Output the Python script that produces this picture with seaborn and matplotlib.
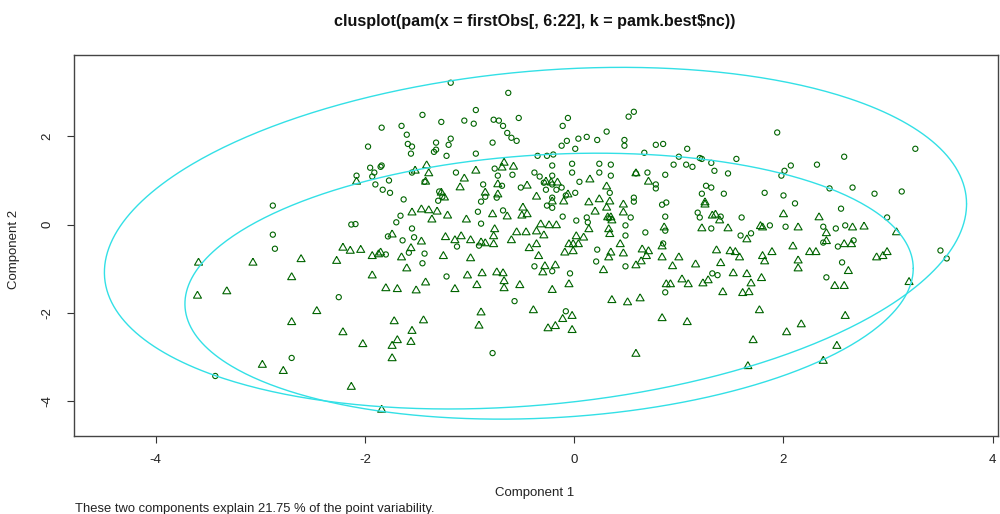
import numpy as np
import pandas as pd
import matplotlib
matplotlib.use("Agg")
import matplotlib.pyplot as plt
import seaborn as sns

# Component scores of the observations in cluster 1 (open circles)
cluster1_pts = [
    (-1.84, 2.20), (-1.97, 1.77), (-1.95, 1.29), (-1.85, 1.31), (-1.91, 1.18), (-1.93, 1.09),
    (-2.08, 1.11), (-1.90, 0.91), (-1.83, 0.79), (-2.88, 0.43), (-2.13, 0.00), (-2.09, 0.01),
    (-2.88, -0.23), (-2.86, -0.55), (-2.25, -1.65), (-2.70, -3.03), (-3.43, -3.44),
    (-0.78, -2.92), (-0.57, -1.74), (-0.08, -1.97), (0.87, -1.54), (-1.22, -1.18), (-0.04, -1.11),
    (-0.38, -0.95), (-0.21, -1.06), (0.22, -0.57), (0.21, -0.84), (0.49, -0.95), (0.85, -0.43),
    (0.49, -0.25), (0.68, -0.18), (-1.12, -0.50), (-1.53, -0.29), (-1.64, -0.36), (-1.43, -0.66),
    (-1.45, -0.88), (-1.58, -0.64), (-1.80, -0.68), (-1.78, -0.27), (-0.91, -0.48),
    (-1.56, 1.61), (-1.34, 1.65), (-1.22, 1.56), (-0.94, 1.61), (-0.35, 1.56), (-0.26, 1.56),
    (-0.20, 1.59), (-0.02, 1.38), (0.24, 1.38), (0.35, 1.36), (0.67, 1.63), (0.95, 1.36),
    (1.00, 1.54), (1.07, 1.36), (-1.84, 1.34), (-1.55, 1.18), (-1.43, 0.97), (-0.76, 1.27),
    (-0.59, 1.13), (-0.73, 1.11), (-1.13, 1.18), (-0.21, 1.34), (-0.21, 1.11), (0.59, 1.16),
    (0.70, 1.18), (0.87, 1.13), (0.24, 1.18), (0.35, 1.11), (-0.02, 1.18), (-1.76, 0.72),
    (-1.77, 1.00), (-0.87, 0.91), (-0.69, 0.88), (-1.29, 0.75), (-1.26, 0.63), (-1.30, 0.54),
    (-1.63, 0.57), (-0.85, 0.63), (-0.89, 0.52), (-0.74, 0.61), (-0.38, 1.18), (-0.33, 1.09),
    (-0.21, 0.91), (-0.51, 0.84), (-0.29, 0.95), (-0.17, 0.79), (-0.12, 0.84), (-0.27, 0.79),
    (-0.21, 0.61), (-0.26, 0.43), (-0.08, 0.66), (0.01, 0.72), (0.05, 0.97), (-0.21, 0.38),
    (0.34, 0.72), (0.57, 0.61), (0.57, 0.52), (0.78, 0.82), (0.78, 0.91), (0.84, 0.45),
    (0.88, 0.50), (0.87, 0.18), (-1.66, 0.20), (-1.70, 0.05), (-1.55, -0.09), (-0.92, 0.29),
    (-0.89, 0.02), (-0.68, 0.32), (-0.11, 0.18), (0.02, 0.09), (0.12, 0.16), (0.13, 0.05),
    (0.49, -0.02), (0.54, 0.16), (0.33, 0.14), (0.87, -0.14),
    (-1.18, 3.22), (-0.63, 2.99), (-0.94, 2.60), (-1.45, 2.49), (-1.27, 2.33), (-1.05, 2.36),
    (-0.96, 2.29), (-0.77, 2.38), (-0.72, 2.36), (-0.68, 2.24), (-0.64, 2.08), (-0.60, 1.97),
    (-0.55, 1.90), (-0.53, 2.42), (-0.78, 1.86), (-1.65, 2.24), (-1.60, 2.04), (-1.59, 1.83),
    (-1.55, 1.77), (-1.32, 1.86), (-1.32, 1.70), (-1.20, 1.81), (-1.18, 1.95), (-0.11, 2.24),
    (-0.06, 2.42), (-0.12, 1.79), (-0.07, 1.90), (0.01, 1.72), (0.04, 1.95), (0.12, 1.99),
    (0.22, 1.92), (0.31, 2.11), (0.48, 1.92), (0.48, 1.79), (0.52, 2.45), (0.57, 2.56),
    (0.78, 1.81), (0.85, 1.83), (1.08, 1.72),
    (1.94, 2.09), (3.26, 1.72), (1.22, 1.49), (1.20, 1.51), (1.13, 1.31), (1.31, 1.40),
    (1.34, 1.22), (1.47, 1.16), (1.55, 1.49), (2.07, 1.34), (2.01, 1.22), (1.98, 1.11),
    (2.32, 1.36), (2.58, 1.54), (1.26, 0.88), (1.31, 0.84), (1.22, 0.70), (1.43, 0.70),
    (1.82, 0.72), (2.00, 0.66), (2.11, 0.48), (2.44, 0.82), (2.66, 0.84), (2.87, 0.70),
    (3.13, 0.75), (2.55, 0.36), (2.99, 0.16), (1.18, 0.27), (1.20, 0.16), (1.40, 0.18),
    (1.60, 0.16), (1.31, -0.09), (1.59, -0.25), (1.69, -0.20), (1.87, -0.02), (2.02, -0.05),
    (2.38, -0.05), (2.50, -0.09), (2.59, -0.02),
    (2.38, -0.41), (2.52, -0.50), (2.67, -0.36), (2.56, -0.86), (2.41, -1.20), (3.50, -0.59),
    (3.56, -0.77), (1.32, -1.11), (1.37, -1.15),
]

# Component scores of the observations in cluster 2 (open triangles)
cluster2_pts = [
    (-2.08, 0.97),
    (-3.59, -0.87), (-3.07, -0.87), (-2.61, -0.79), (-2.27, -0.83), (-2.21, -0.53), (-2.14, -0.60),
    (-2.04, -0.58), (-1.93, -0.72), (-1.87, -0.68), (-1.93, -1.16), (-2.70, -1.20), (-3.60, -1.62),
    (-3.32, -1.52), (-2.46, -1.97), (-2.70, -2.22), (-2.21, -2.45), (-2.02, -2.72), (-2.98, -3.19),
    (-2.78, -3.33), (-2.13, -3.69), (-1.84, -4.21),
    (-1.74, -3.04), (-1.74, -2.76), (-1.69, -2.63), (-1.56, -2.67), (-1.55, -2.42), (-1.72, -2.20),
    (-1.44, -2.18), (-1.80, -1.45), (-1.69, -1.47), (-1.51, -1.50), (-1.42, -1.32), (-0.89, -2.00),
    (-0.91, -2.30), (-0.39, -1.95), (-0.25, -2.36), (-0.18, -2.31), (-0.11, -2.15), (-0.02, -2.08),
    (-0.02, -2.40), (0.59, -2.94), (0.36, -1.72), (0.51, -1.77), (0.63, -1.68), (0.84, -2.13),
    (1.08, -2.22), (-1.14, -1.47), (-0.93, -1.38), (-1.02, -1.16), (-0.88, -1.11), (-0.74, -1.09),
    (-0.68, -1.11), (-0.67, -1.29), (-0.67, -1.45), (-0.52, -1.38), (-0.21, -1.49), (-0.05, -1.36),
    (-0.30, -1.09), (-0.28, -0.95), (-0.18, -0.93), (-0.34, -0.72), (-0.43, -0.54), (-0.36, -0.45),
    (-0.09, -0.64), (-0.01, -0.61), (-0.01, -0.45), (-0.05, -0.45), (0.04, -0.45), (0.02, -0.27),
    (0.09, -0.30), (0.28, -1.04), (0.33, -0.75), (0.35, -0.64), (0.47, -0.66), (0.44, -0.45),
    (0.59, -0.93), (0.64, -0.84), (0.69, -0.72), (0.65, -0.57), (0.71, -0.61), (0.84, -0.75),
    (0.84, -0.50), (0.94, -0.95), (1.00, -0.75), (1.03, -1.25), (0.88, -1.36), (0.92, -1.36),
    (-1.25, -0.72), (-0.99, -0.77), (-1.08, -0.27), (-0.99, -0.36), (-1.23, -0.29), (-1.14, -0.36),
    (-1.46, -0.39), (-1.60, -1.00), (-1.65, -0.75), (-1.56, -0.54), (-1.85, -0.64), (-1.74, -0.23),
    (-0.89, -0.41), (-0.85, -0.43), (-0.77, -0.27), (-0.77, -0.45), (-0.60, -0.36), (-0.55, -0.18),
    (-0.46, -0.18), (-0.36, -0.16), (-0.29, -0.25), (0.34, -0.22),
    (-1.41, 1.34), (-1.52, 1.22), (-1.39, 1.16), (-0.94, 1.22), (-0.67, 1.40), (-0.69, 1.29),
    (-0.58, 1.31), (0.59, 1.16), (0.71, 0.97), (-1.42, 0.97), (-1.05, 1.04), (-1.09, 0.84),
    (-0.73, 0.91), (-1.27, 0.72), (-1.24, 0.61), (-0.85, 0.72), (-0.73, 0.68), (-0.45, 0.88),
    (-0.36, 0.63), (-0.27, 0.97), (-0.22, 0.95), (-0.16, 0.95), (-0.21, 0.52), (-0.10, 0.52),
    (-0.06, 0.68), (0.15, 1.02), (0.31, 0.86), (0.34, 0.52), (0.14, 0.50), (0.24, 0.57),
    (0.47, 0.45), (0.86, -0.07), (-1.55, 0.27), (-1.46, 0.34), (-1.39, 0.32), (-1.31, 0.29),
    (-1.36, 0.11), (-1.21, 0.20), (-1.03, 0.11), (-0.78, 0.23), (-0.64, 0.18), (-0.50, 0.20),
    (-0.49, 0.38), (-0.45, 0.23), (-0.32, 0.00), (-0.24, -0.02), (-0.17, -0.02), (0.14, -0.11),
    (0.20, 0.29), (0.31, 0.38), (0.32, 0.16), (0.35, 0.16), (0.36, 0.09), (0.33, -0.11),
    (0.47, 0.27), (-0.76, -0.11),
    (1.25, 0.50), (1.25, 0.45), (1.32, 0.20), (1.35, 0.22), (1.39, 0.09), (2.00, 0.23),
    (2.34, 0.16), (1.22, -0.09), (1.47, -0.09), (1.80, -0.07), (2.14, -0.07), (2.66, -0.07),
    (2.77, -0.05), (3.08, -0.18), (2.41, -0.20), (1.78, -0.04),
    (1.65, -0.34), (1.36, -0.59), (1.49, -0.61), (1.54, -0.63), (1.58, -0.75), (1.80, -0.72),
    (1.82, -0.84), (1.89, -0.63), (2.09, -0.50), (2.14, -0.82), (2.14, -1.00), (2.25, -0.63),
    (2.31, -0.63), (2.41, -0.38), (2.58, -0.45), (2.65, -0.45), (2.62, -1.06), (2.49, -1.40),
    (2.58, -1.40), (2.89, -0.75), (2.95, -0.72), (2.99, -0.63), (3.20, -1.31), (1.16, -0.91),
    (1.40, -0.88), (1.28, -1.27), (1.23, -1.34), (1.09, -1.36), (1.52, -1.11), (1.65, -1.13),
    (1.69, -1.34), (1.79, -1.22), (1.42, -1.54), (1.61, -1.56), (1.67, -1.54), (1.77, -1.95),
    (2.17, -2.27), (2.03, -2.45), (2.59, -2.08), (1.71, -2.63), (2.51, -2.76), (2.38, -3.10),
    (1.66, -3.22),
]

# Spanning ellipse of each cluster: centre and shape matrix (x^T A^-1 x = 1)
ellipse_centers = [(-0.37, -0.31), (-0.24, -1.40)]
ellipse_shapes = [
    [[16.97, 3.20], [3.20, 15.05]],
    [[12.11, 1.40], [1.40, 9.12]],
]

x_ticks = [-4, -2, 0, 2, 4]
y_ticks = [-4, -2, 0, 2]
title_text = "clusplot(pam(x = firstObs[, 6:22], k = pamk.best$nc))"
x_label = "Component 1"
y_label = "Component 2"
sub_text = "These two components explain 21.75 % of the point variability."

POINT_COLOR = "#006400"
ELLIPSE_COLOR = "#33E0E6"

sns.set_style("white")
plt.rcParams["font.family"] = ["Liberation Sans", "DejaVu Sans"]

df1 = pd.DataFrame(cluster1_pts, columns=["comp1", "comp2"])
df2 = pd.DataFrame(cluster2_pts, columns=["comp1", "comp2"])

fig = plt.figure(figsize=(10, 5.14), dpi=100)
ax = fig.add_axes([0.074, 0.152, 0.924, 0.741])

# cluster ellipses
theta = np.linspace(0, 2 * np.pi, 500)
unit = np.vstack([np.cos(theta), np.sin(theta)])
for c, A in zip(ellipse_centers, ellipse_shapes):
    L = np.linalg.cholesky(np.array(A))
    pts = (L @ unit).T + np.array(c)
    sns.lineplot(x=pts[:, 0], y=pts[:, 1], sort=False, estimator=None,
                 color=ELLIPSE_COLOR, linewidth=1.0, ax=ax)

# equilateral triangle marker, like R's pch 2
tri = [(0.0, 1.155), (-1.0, -0.577), (1.0, -0.577), (0.0, 1.155)]

sns.scatterplot(data=df1, x="comp1", y="comp2", marker="o", s=14,
                color=POINT_COLOR, facecolor="none", edgecolor=POINT_COLOR,
                linewidth=0.8, legend=False, ax=ax)
sns.scatterplot(data=df2, x="comp1", y="comp2", marker=tri, s=44,
                color=POINT_COLOR, facecolor="none", edgecolor=POINT_COLOR,
                linewidth=0.8, legend=False, ax=ax)

ax.set_xlim(-4.78, 4.05)
ax.set_ylim(-4.80, 3.85)
ax.set_xticks(x_ticks)
ax.set_xticklabels([str(t) for t in x_ticks])
ax.set_yticks(y_ticks)
ax.set_yticklabels([str(t) for t in y_ticks], rotation=90, va="center")
ax.tick_params(axis="both", direction="out", length=5, width=0.8,
               color="#333333", labelsize=9.5, labelcolor="#222222",
               bottom=True, left=True, top=False, right=False)
ax.tick_params(axis="x", pad=8)
ax.tick_params(axis="y", pad=10)
for sp in ax.spines.values():
    sp.set_visible(True)
    sp.set_color("#444444")
    sp.set_linewidth(1.0)

ax.set_xlabel(x_label, fontsize=9.5, color="#222222")
ax.set_ylabel(y_label, fontsize=9.5, color="#222222")
ax.xaxis.set_label_coords(0.498, -0.134)
ax.yaxis.set_label_coords(-0.058, 0.49)

fig.text(0.535, 1 - 21.5 / 514, title_text, ha="center", va="center",
         fontsize=11.6, fontweight="bold", color="#111111")
fig.text(0.075, 0.004, sub_text, ha="left", va="baseline",
         fontsize=9.4, color="#222222")

fig.savefig("out.png", dpi=100, facecolor="white")
